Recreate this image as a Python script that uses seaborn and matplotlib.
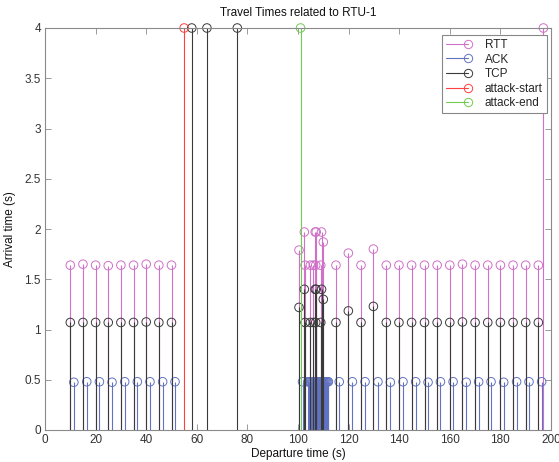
import matplotlib
matplotlib.use("Agg")
import matplotlib.pyplot as plt
from matplotlib.lines import Line2D
from matplotlib.legend_handler import HandlerBase
import seaborn as sns

# ---- data ----
rtt_x = [10, 15, 20, 25, 30, 35, 40, 45, 50,
         100.4, 102.5, 102.8, 104.9, 106.1, 106.8, 107.0, 107.2, 109.0, 109.3, 110.0,
         115, 119.9, 124.9, 129.8, 134.9, 139.9, 144.9,
         150, 155, 160, 165, 170, 175, 180, 185, 190, 195, 197]
rtt_y = [1.64, 1.65, 1.64, 1.635, 1.64, 1.64, 1.65, 1.64, 1.64,
         1.79, 1.97, 1.64, 1.64, 1.64, 1.97, 1.64, 1.97, 1.64, 1.97, 1.87,
         1.64, 1.76, 1.64, 1.80, 1.64, 1.64, 1.64,
         1.64, 1.64, 1.64, 1.65, 1.64, 1.64, 1.64, 1.64, 1.64, 1.64, 4.0]

ack_x = [11.4, 16.5, 21.5, 26.5, 31.5, 36.5, 41.5, 46.5, 51.4,
         101.8, 103.9, 104.3, 104.7, 105.0, 105.4, 105.8, 106.1, 106.5, 106.9,
         107.2, 107.6, 108.0, 108.3, 108.6, 108.9, 109.1, 109.3, 109.5, 109.7,
         109.9, 110.2, 110.5, 110.9, 111.3, 111.7, 112.0,
         116.3, 121.5, 126.5, 131.6, 136.5, 141.5, 146.5,
         151.4, 156.3, 161.3, 166.5, 171.4, 176.3, 181.3, 186.4, 191.3, 196.3]
ack_y = [0.475, 0.48, 0.48, 0.475, 0.48, 0.48, 0.48, 0.48, 0.48,
         0.48, 0.48, 0.48, 0.48, 0.48, 0.48, 0.48, 0.48, 0.48, 0.48,
         0.48, 0.48, 0.48, 0.48, 0.48, 0.48, 0.48, 0.48, 0.48, 0.48,
         0.48, 0.48, 0.48, 0.48, 0.48, 0.48, 0.48,
         0.48, 0.48, 0.48, 0.48, 0.475, 0.48, 0.48,
         0.475, 0.48, 0.48, 0.475, 0.48, 0.48, 0.475, 0.48, 0.48, 0.48]

tcp_x = [10, 15, 20, 25, 30, 35, 40, 45, 50, 58, 64, 76,
         100.4, 102.5, 102.8, 104.9, 106.1, 106.8, 107.0, 107.2, 109.0, 109.3, 110.0,
         115, 119.9, 124.9, 129.8, 134.9, 139.9, 144.9,
         150, 155, 160, 165, 170, 175, 180, 185, 190, 195]
tcp_y = [1.07, 1.07, 1.07, 1.07, 1.07, 1.07, 1.075, 1.07, 1.07, 4.0, 4.0, 4.0,
         1.22, 1.40, 1.07, 1.07, 1.07, 1.40, 1.07, 1.40, 1.07, 1.40, 1.30,
         1.07, 1.185, 1.07, 1.23, 1.07, 1.07, 1.07,
         1.07, 1.07, 1.07, 1.075, 1.07, 1.07, 1.07, 1.07, 1.07, 1.07]

start_x = [55]
start_y = [4.0]
end_x = [101]
end_y = [4.0]

series_names = ["RTT", "ACK", "TCP", "attack-start", "attack-end"]
series_colors = ["#d070c8", "#6272c2", "#3a3a3a", "#ff4040", "#70cc50"]

x_ticks = [0, 20, 40, 60, 80, 100, 120, 140, 160, 180, 200]
y_ticks = [0, 0.5, 1, 1.5, 2, 2.5, 3, 3.5, 4]
y_tick_labels = ["0", "0.5", "1", "1.5", "2", "2.5", "3", "3.5", "4"]

# ---- style ----
sns.set_style("white")
plt.rcParams["font.family"] = ["Liberation Sans", "DejaVu Sans"]

fig = plt.figure(figsize=(5.59, 4.62), dpi=100)
ax = fig.add_axes([45 / 559, 32 / 462, 506 / 559, 402 / 462])

all_series = [(rtt_x, rtt_y), (ack_x, ack_y), (tcp_x, tcp_y),
              (start_x, start_y), (end_x, end_y)]

for z, ((xs, ys), col) in enumerate(zip(all_series, series_colors)):
    ax.vlines(xs, 0, ys, colors=col, linewidth=0.8, zorder=2 + z * 0.1)
    sns.scatterplot(x=xs, y=ys, ax=ax, marker="o", s=38,
                    facecolor="none", edgecolor=col, linewidth=0.7,
                    legend=False, clip_on=False, zorder=2.05 + z * 0.1)

ax.set_xlim(0, 200)
ax.set_ylim(0, 4)
ax.set_xticks(x_ticks)
ax.set_yticks(y_ticks)
ax.set_yticklabels(y_tick_labels)

for sp in ax.spines.values():
    sp.set_color("#8a8a8a")
    sp.set_linewidth(0.8)
    sp.set_visible(True)
ax.tick_params(direction="in", length=4, width=0.6, color="#8a8a8a",
               labelsize=8.5, labelcolor="#333333",
               top=True, right=True, bottom=True, left=True, pad=3)

ax.set_title("Travel Times related to RTU-1", fontsize=8.5, color="#111111", pad=9)
ax.set_xlabel("Departure time (s)", fontsize=8.5, color="#111111", labelpad=1)
ax.set_ylabel("Arrival time (s)", fontsize=8.5, color="#111111", labelpad=6)


class StemHandler(HandlerBase):
    """MATLAB-style stem legend: horizontal line with a hollow circle at its right end."""
    def create_artists(self, legend, orig_handle, xdescent, ydescent,
                       width, height, fontsize, trans):
        c = orig_handle.get_color()
        y = height / 2 - ydescent
        x0 = -xdescent
        x1 = -xdescent + width
        line = Line2D([x0, x1 - 3], [y, y], color=c, linewidth=0.8)
        mark = Line2D([x1 - 3], [y], linestyle="none", marker="o",
                      markersize=6, markerfacecolor="none",
                      markeredgecolor=c, markeredgewidth=0.7)
        line.set_transform(trans)
        mark.set_transform(trans)
        return [line, mark]


handles = [Line2D([0, 1], [0, 0], color=c) for c in series_colors]
leg = ax.legend(handles, series_names, loc="upper right",
                bbox_to_anchor=(0.992, 0.983), borderaxespad=0,
                fontsize=8.5, handlelength=2.2,
                handletextpad=1.1, labelspacing=0.22,
                fancybox=False, framealpha=1, edgecolor="#888888",
                borderpad=0.35,
                handler_map={Line2D: StemHandler()})
leg.get_frame().set_linewidth(0.8)

fig.savefig("out.png", dpi=100)
